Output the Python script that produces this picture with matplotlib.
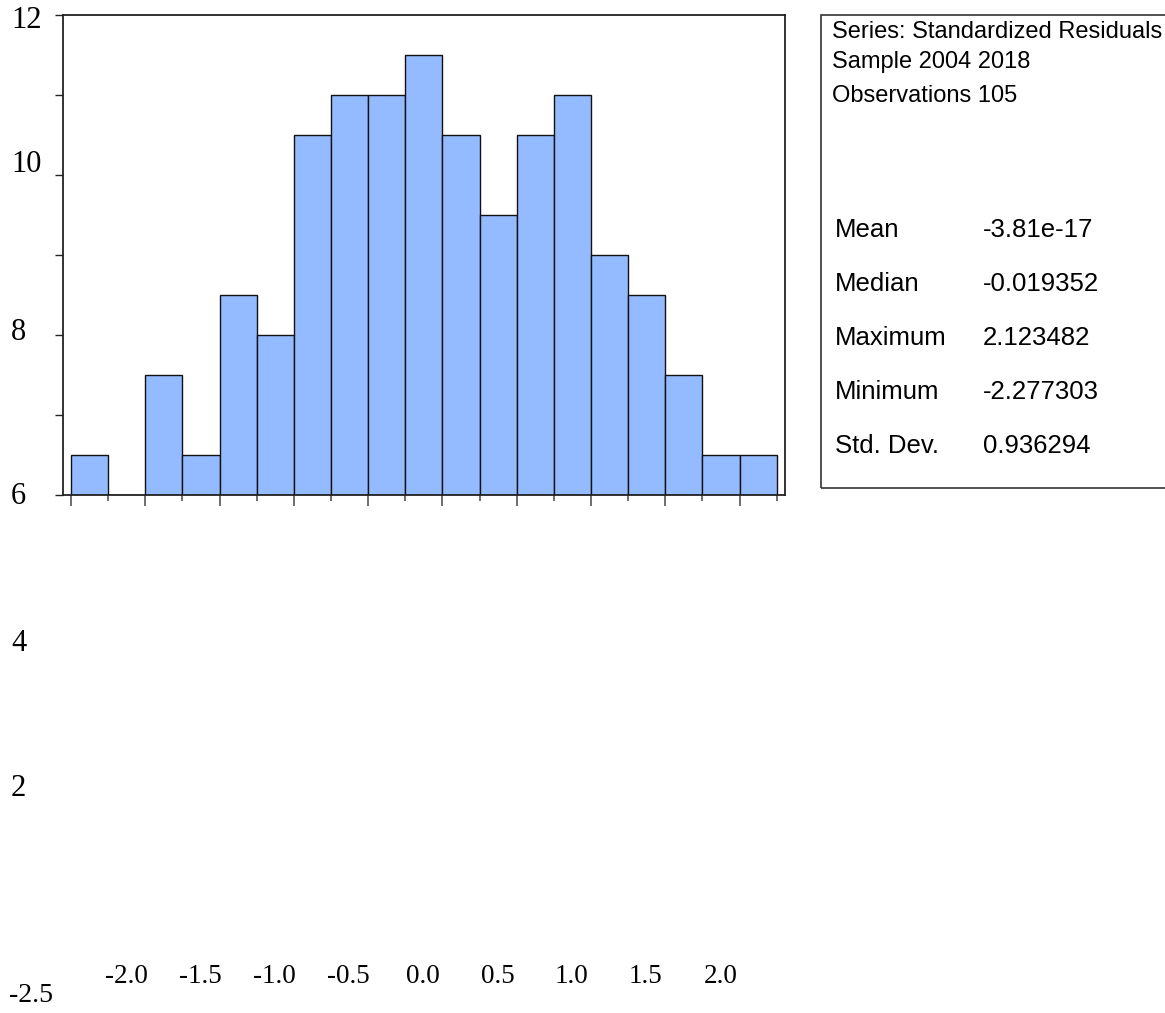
import numpy as np
import matplotlib
matplotlib.use("Agg")
import matplotlib.pyplot as plt
from matplotlib.patches import Rectangle
from matplotlib.transforms import blended_transform_factory

# histogram of standardized residuals (bin width 0.25)
bin_start = -2.5
bin_width = 0.25
counts = [1, 0, 3, 1, 5, 4, 9, 10, 10, 11, 9, 7, 9, 10, 6, 5, 3, 1, 1]

# axis labels as they appear in the picture
ylabels = ["12", "10", "8", "6", "4", "2"]
xlabels = ["-2.0", "-1.5", "-1.0", "-0.5", "0.0", "0.5", "1.0", "1.5", "2.0"]
xfirst = "-2.5"

# summary box
header = ["Series: Standardized Residuals", "Sample 2004 2018", "Observations 105"]
stat_names = ["Mean", "Median", "Maximum", "Minimum", "Std. Dev."]
stat_values = ["-3.81e-17", "-0.019352", "2.123482", "-2.277303", "0.936294"]

W, H = 1165, 1013
fig = plt.figure(figsize=(W / 100, H / 100), dpi=100)

def fx(px):
    return px / W

def fy(py):
    return 1 - py / H

ax = fig.add_axes([fx(63), fy(495), fx(785) - fx(63), fy(15) - fy(495)])
edges = bin_start + bin_width * np.arange(len(counts))
ax.bar(edges, counts, width=bin_width, align="edge", color="#94bbff",
       edgecolor="#111111", linewidth=1.0)
ax.set_xlim(-2.554, 2.306)
ax.set_ylim(0, 12)

for s in ax.spines.values():
    s.set_color("#222222")
    s.set_linewidth(1.3)

ax.set_yticks(np.arange(0, 13, 2))
ax.set_yticklabels([])
ax.tick_params(axis="y", direction="out", length=6, width=1, color="#222222")
ax.set_xticks(np.arange(-2.5, 2.01, 0.5))
ax.set_xticks(np.arange(-2.25, 2.26, 0.5), minor=True)
ax.set_xticklabels([])
ax.tick_params(axis="x", which="major", direction="out", length=8, width=1.2, color="#555555")
ax.tick_params(axis="x", which="minor", direction="out", length=4, width=1.2, color="#555555")

serif = ["Liberation Serif", "DejaVu Serif"]
ylab_px = [20, 165, 333, 497, 643, 788]
for lab, py in zip(ylabels, ylab_px):
    fig.text(fx(11), fy(py), lab, ha="left", va="center", fontsize=22, family=serif)

tr = blended_transform_factory(ax.transData, fig.transFigure)
for lab in xlabels:
    ax.text(float(lab) - 0.13, fy(976), lab, transform=tr, ha="center", va="center",
            fontsize=19.5, family=serif, clip_on=False)
fig.text(fx(31), fy(995), xfirst, ha="center", va="center", fontsize=20, family=serif)

# stats box
fig.patches.append(Rectangle((fx(821), fy(488)), 0.5, fy(15) - fy(488), transform=fig.transFigure,
                             fill=False, edgecolor="#333333", linewidth=1.2))
sans = ["Liberation Sans", "DejaVu Sans"]
for txt, py in zip(header, [32, 62, 96]):
    fig.text(fx(832), fy(py), txt, ha="left", va="center", fontsize=17, family=sans)
for i, (nm, val) in enumerate(zip(stat_names, stat_values)):
    py = 230 + 54 * i
    fig.text(fx(835), fy(py), nm, ha="left", va="center", fontsize=18.5, family=sans)
    fig.text(fx(983), fy(py), val, ha="left", va="center", fontsize=18.5, family=sans)

fig.savefig("out.png", dpi=100)
